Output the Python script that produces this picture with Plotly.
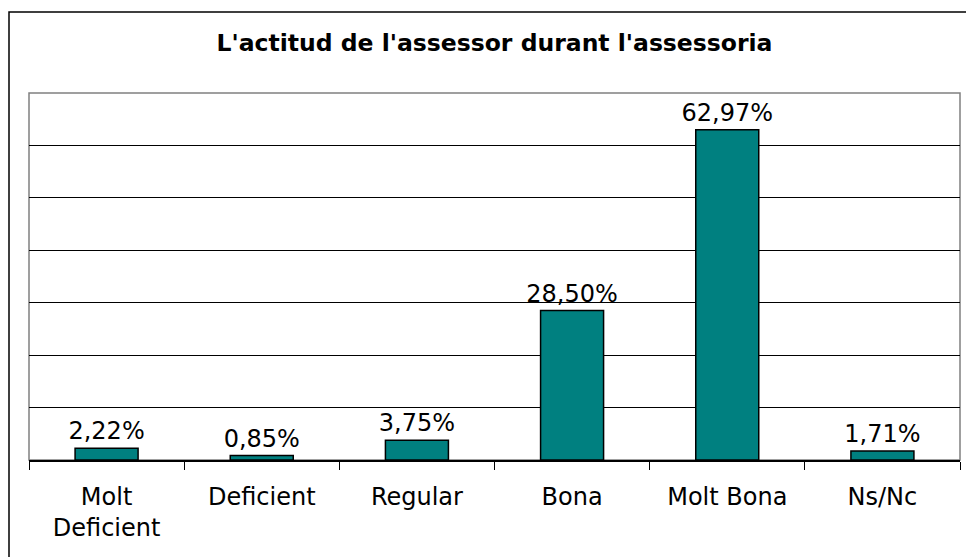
import plotly.graph_objects as go

categories = ["Molt<br>Deficient", "Deficient", "Regular", "Bona", "Molt Bona", "Ns/Nc"]
values = [2.22, 0.85, 3.75, 28.50, 62.97, 1.71]
labels = ["2,22%", "0,85%", "3,75%", "28,50%", "62,97%", "1,71%"]
title_text = "L'actitud de l'assessor durant l'assessoria"

W, H = 966, 557
L, R, T, B = 29, 6, 93, 97
pw, ph = W - L - R, H - T - B

def px(x):
    return (x - L) / pw

def py(y):
    return (H - B - y) / ph

fig = go.Figure()
fig.add_trace(go.Bar(
    x=categories, y=values, text=labels, textposition="outside",
    constraintext="none",
    textfont=dict(family="DejaVu Sans", size=24, color="black"),
    marker=dict(color="#008080", line=dict(color="black", width=1.5)),
    cliponaxis=False,
))

fig.update_layout(
    width=W, height=H,
    margin=dict(l=L, r=R, t=T, b=B),
    paper_bgcolor="white", plot_bgcolor="white",
    bargap=0.594,
    showlegend=False,
    font=dict(family="DejaVu Sans", color="black"),
    title=dict(text="<b>" + title_text + "</b>", xref="paper", x=0.5, xanchor="center",
               yref="container", y=1 - 43 / H, yanchor="middle",
               font=dict(family="DejaVu Sans", size=23.5, color="black")),
    xaxis=dict(type="category", showline=True, linecolor="black", linewidth=1.5,
               ticks="outside", tickson="boundaries", ticklen=8, tickcolor="black",
               tickwidth=1, tickfont=dict(family="DejaVu Sans", size=24, color="black"),
               ticklabelstandoff=14, showgrid=False),
    yaxis=dict(range=[0, 70], dtick=10, showticklabels=False, showgrid=True,
               gridcolor="black", gridwidth=1, zeroline=False, showline=False),
    shapes=[
        dict(type="rect", xref="paper", yref="paper", x0=0, x1=1, y0=0, y1=1,
             line=dict(color="#808080", width=1.5), layer="below"),
        dict(type="rect", xref="paper", yref="paper",
             x0=px(9), x1=px(975), y0=py(565), y1=py(12),
             line=dict(color="black", width=1.5), layer="below"),
    ],
)

fig.write_html("out.html", config={"displayModeBar": False},
               post_script="document.body.style.margin='0';document.body.style.overflow='hidden';")
